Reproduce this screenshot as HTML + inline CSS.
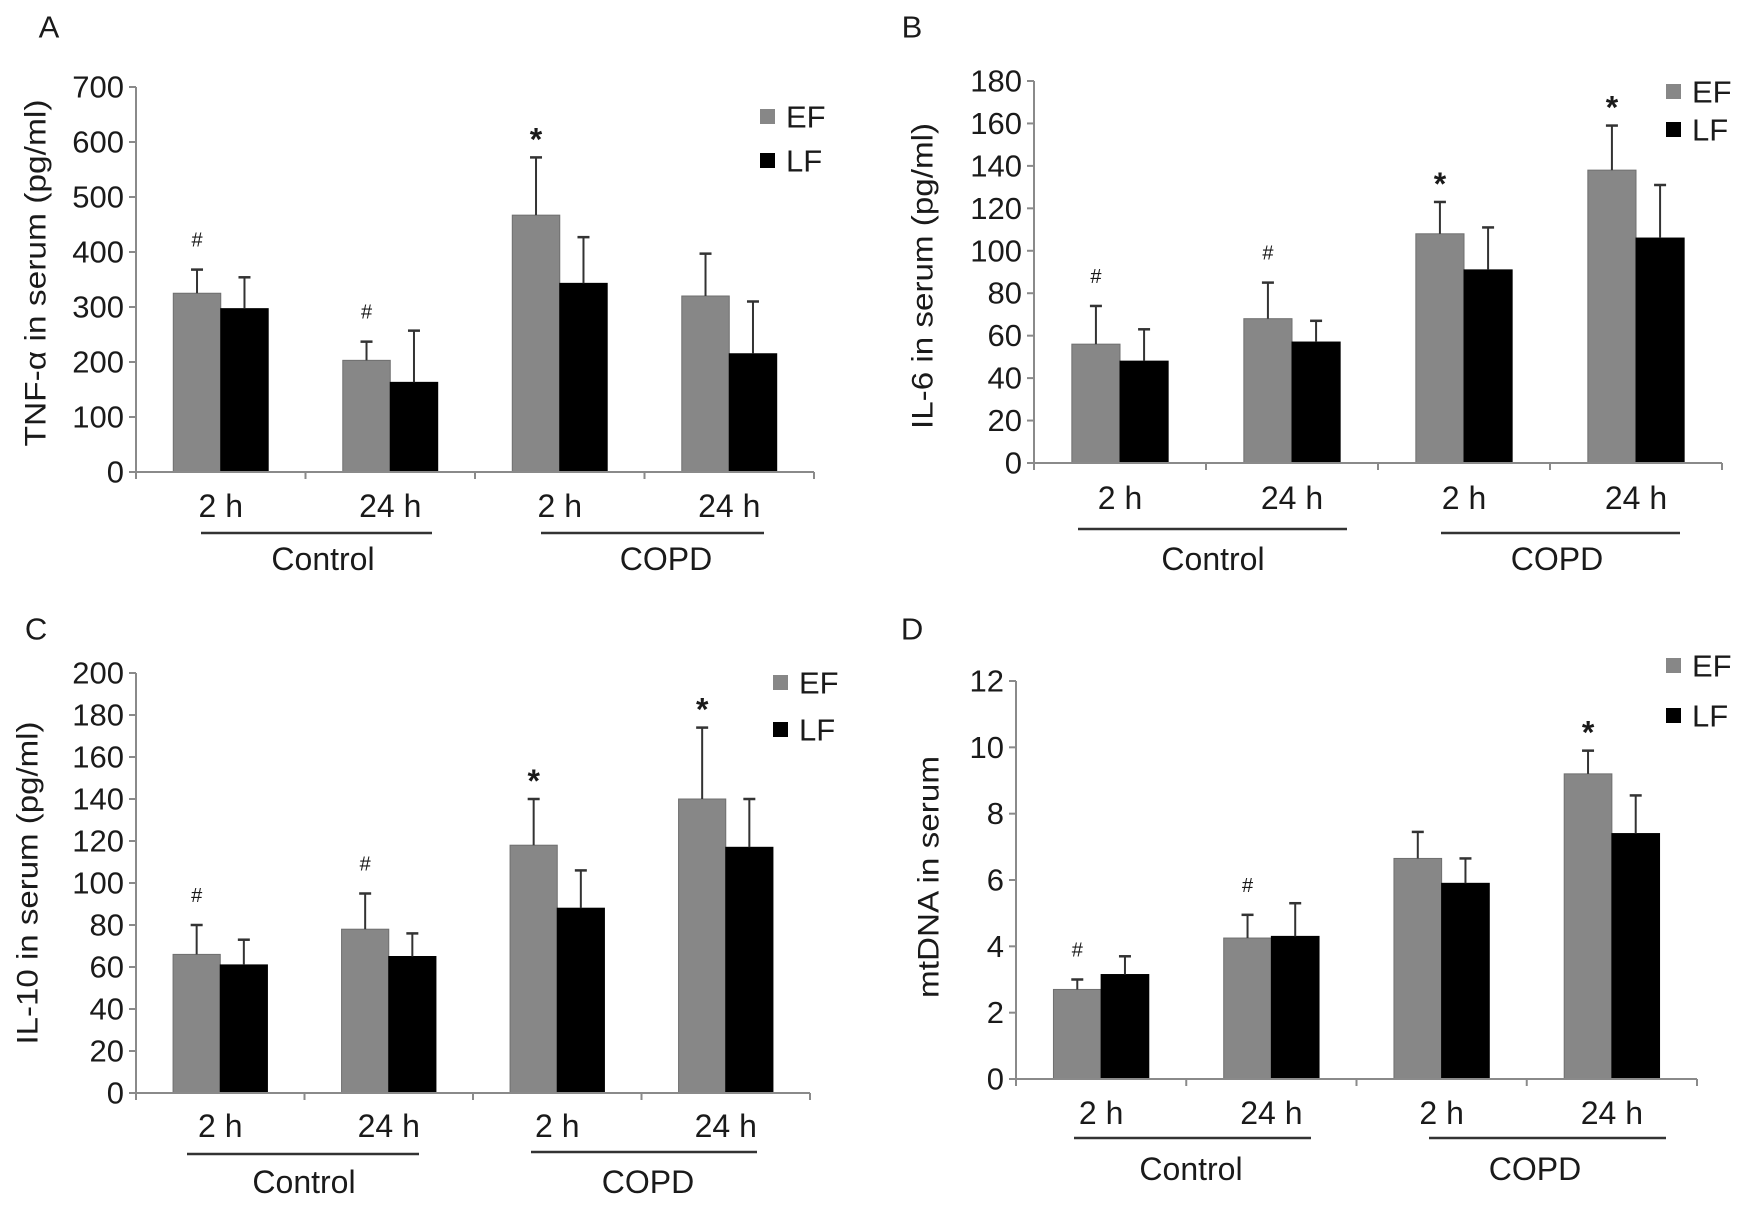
<!DOCTYPE html>
<html><head><meta charset="utf-8">
<style>
html,body{margin:0;padding:0;background:#fff;}
svg{display:block;font-family:"Liberation Sans",Arial,sans-serif;}
</style></head>
<body>
<svg id="fig" width="1741" height="1206" viewBox="0 0 1741 1206"></svg>
<script>
// Panel A: TNF-alpha
const catsTime = ["2 h","24 h","2 h","24 h"];
const groupNames = ["Control","COPD"];
const aEF = [325, 203, 467, 320];
const aEFerr = [368, 237, 572, 397];
const aLF = [297, 163, 343, 215];
const aLFerr = [354, 257, 427, 310];
const aMarks = ["#","#","*",""];
const aTicks = [0,100,200,300,400,500,600,700];
// Panel B: IL-6
const bEF = [56, 68, 108, 138];
const bEFerr = [74, 85, 123, 159];
const bLF = [48, 57, 91, 106];
const bLFerr = [63, 67, 111, 131];
const bMarks = ["#","#","*","*"];
const bTicks = [0,20,40,60,80,100,120,140,160,180];
// Panel C: IL-10
const cEF = [66, 78, 118, 140];
const cEFerr = [80, 95, 140, 174];
const cLF = [61, 65, 88, 117];
const cLFerr = [73, 76, 106, 140];
const cMarks = ["#","#","*","*"];
const cTicks = [0,20,40,60,80,100,120,140,160,180,200];
// Panel D: mtDNA
const dEF = [2.7, 4.25, 6.65, 9.2];
const dEFerr = [3.0, 4.95, 7.45, 9.9];
const dLF = [3.15, 4.3, 5.9, 7.4];
const dLFerr = [3.7, 5.3, 6.65, 8.55];
const dMarks = ["#","#","","*"];
const dTicks = [0,2,4,6,8,10,12];

const NS = "http://www.w3.org/2000/svg";
const svg = document.getElementById("fig");
function mk(tag, attrs, parent){
  const e = document.createElementNS(NS, tag);
  for (const k in attrs) e.setAttribute(k, attrs[k]);
  (parent||svg).appendChild(e);
  return e;
}
function txt(parent, x, y, s, size, anchor, sx){
  const g = mk("g", {transform:`translate(${x},${y}) scale(${sx||1},1)`}, parent);
  const t = mk("text", {x:0, y:0, "font-size":size, "text-anchor":anchor||"middle", fill:"#1a1a1a", "dominant-baseline":"central"}, g);
  t.textContent = s;
  return t;
}

function panel(p){
  const g = mk("g", {});
  
  
  const max = p.ticks[p.ticks.length-1];
  const yS = v => p.y0 - (v/max)*(p.y0-p.yTop);
  const gw = (p.xEnd - p.ax)/4;
  const bw = gw*0.28;
  const L = txt(g, p.letter[0], p.letter[1], p.letterText, 31, "middle");
  
  
  const ya = mk("line", {x1:p.ax, y1:yS(max), x2:p.ax, y2:p.y0, stroke:"#8a8a8a", "stroke-width":2}, g);
  
  
  p.ticks.forEach(t=>{
    const y = yS(t);
    mk("line", {x1:p.ax-7, y1:y, x2:p.ax, y2:y, stroke:"#8a8a8a", "stroke-width":2}, g);
    const tl = txt(g, p.ax-12, y, String(t), 31, "end", 1);
    
    
  });
  const yl = mk("text", {x:0, y:0, "font-size":30, "text-anchor":"middle", "dominant-baseline":"central", fill:"#1a1a1a",
    textLength:p.ylen, lengthAdjust:"spacingAndGlyphs",
    transform:`translate(${p.ylab[0]},${p.ylab[1]}) rotate(-90)`}, g);
  yl.textContent = p.ylabel;
  
  
  for (let i=0;i<4;i++){
    const c = p.ax + gw*(i+0.5);
    const series = [[p.ef,p.eferr,"#878787","#6f6f6f",c-bw],[p.lf,p.lferr,"#000","#000",c]];
    series.forEach((s,j)=>{
      const v = s[0][i], e = s[1][i];
      const r = mk("rect", {x:s[4], y:yS(v), width:bw, height:p.y0-yS(v), fill:s[2], stroke:s[3], "stroke-width":1}, g);
      
      
      const bx = s[4]+bw/2;
      mk("line", {x1:bx, y1:yS(v), x2:bx, y2:yS(e), stroke:"#333", "stroke-width":2}, g);
      mk("line", {x1:bx-6, y1:yS(e), x2:bx+6, y2:yS(e), stroke:"#333", "stroke-width":2.5}, g);
    });
    const m = p.marks[i];
    if (m){
      const mx = c - bw/2, ey = yS(p.eferr[i]);
      const mt = m==="#" ? txt(g, mx, ey-29, "#", 20, "middle") : txt(g, mx, ey-18, "*", 32, "middle");
      if (m==="*") mt.setAttribute("font-weight","bold");
      
      
    }
    const xl = txt(g, c, p.xlabY, catsTime[i], 32, "middle", 1);
    
    
  }
  const xa = mk("line", {x1:p.ax, y1:p.y0, x2:p.xEnd, y2:p.y0, stroke:"#8a8a8a", "stroke-width":2}, g);
  
  
  for (let i=0;i<=4;i++){
    const x = p.ax + gw*i;
    mk("line", {x1:x, y1:p.y0, x2:x, y2:p.y0+7, stroke:"#8a8a8a", "stroke-width":2}, g);
  }
  p.groups.forEach((gr,k)=>{
    const ul = mk("line", {x1:gr[0], y1:gr[2], x2:gr[1], y2:gr[2], stroke:"#333", "stroke-width":2.5}, g);
    
    
    const gl = txt(g, gr[3], p.grpY, groupNames[k], 32, "middle", 1);
    
    
  });
  [["EF","#878787",p.leg[1]],["LF","#000",p.leg[2]]].forEach(l=>{
    const lg = mk("g", {}, g);
    
    
    mk("rect", {x:p.leg[0], y:l[2]-8, width:15, height:15, fill:l[1]}, lg);
    txt(lg, p.leg[0]+26, l[2], l[0], 31, "start");
  });
}

panel({name:"panel-a-tnf", letterText:"A", letter:[49,27], ax:136, y0:472, yTop:87, xEnd:814, ticks:aTicks,
  ef:aEF, eferr:aEFerr, lf:aLF, lferr:aLFerr, marks:aMarks,
  ylabel:"TNF-α in serum (pg/ml)", ylab:[36,273], ylen:347, xlabY:506, grpY:559,
  groups:[[201,432,533,323],[541,764,533,666]], leg:[760,117,161]});
panel({name:"panel-b-il6", letterText:"B", letter:[912,27], ax:1034, y0:463, yTop:81, xEnd:1722, ticks:bTicks,
  ef:bEF, eferr:bEFerr, lf:bLF, lferr:bLFerr, marks:bMarks,
  ylabel:"IL-6 in serum (pg/ml)", ylab:[923,276], ylen:306, xlabY:498, grpY:559,
  groups:[[1078,1347,529,1213],[1441,1680,533,1557]], leg:[1666,92,130]});
panel({name:"panel-c-il10", letterText:"C", letter:[36,629], ax:136, y0:1093, yTop:673, xEnd:810, ticks:cTicks,
  ef:cEF, eferr:cEFerr, lf:cLF, lferr:cLFerr, marks:cMarks,
  ylabel:"IL-10 in serum (pg/ml)", ylab:[28,883], ylen:323, xlabY:1126, grpY:1182,
  groups:[[187,419,1154,304],[531,757,1152,648]], leg:[773,683,730]});
panel({name:"panel-d-mtdna", letterText:"D", letter:[912,629], ax:1016, y0:1079, yTop:681, xEnd:1697, ticks:dTicks,
  ef:dEF, eferr:dEFerr, lf:dLF, lferr:dLFerr, marks:dMarks,
  ylabel:"mtDNA in serum", ylab:[929,877], ylen:242, xlabY:1113, grpY:1169,
  groups:[[1074,1311,1138,1191],[1429,1666,1138,1535]], leg:[1666,666,716]});
</script>
</body></html>
